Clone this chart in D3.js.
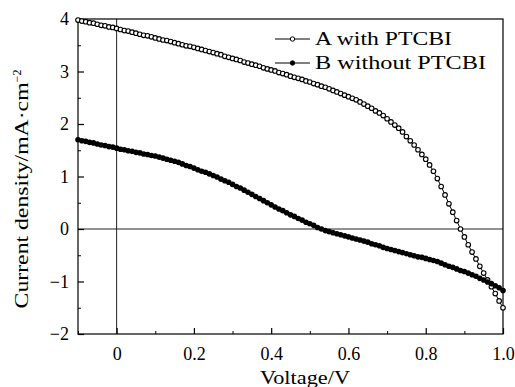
<!DOCTYPE html>
<html>
<head>
<meta charset="utf-8">
<script src="https://d3js.org/d3.v7.min.js"></script>
<style>
body { margin: 0; background: white; }
svg text { font-family: "Liberation Serif", "DejaVu Serif", serif; fill: black; }
</style>
</head>
<body>
<svg id="chart" width="515" height="387"></svg>
<script>
// voltage steps (V), one per measured point
var voltage = d3.range(-10, 101).map(function(i) { return i / 100; });

// A with PTCBI (mA/cm^2)
var withPTCBI = [
  3.98, 3.96, 3.95, 3.93, 3.92, 3.90, 3.88, 3.87, 3.85, 3.84,
  3.82, 3.80, 3.78, 3.77, 3.75, 3.73, 3.71, 3.69, 3.68, 3.66,
  3.64, 3.62, 3.60, 3.59, 3.57, 3.55, 3.53, 3.51, 3.49, 3.48,
  3.46, 3.44, 3.42, 3.40, 3.38, 3.36, 3.34, 3.32, 3.29, 3.27,
  3.25, 3.23, 3.21, 3.18, 3.16, 3.14, 3.12, 3.10, 3.07, 3.05,
  3.03, 3.01, 2.98, 2.96, 2.94, 2.91, 2.89, 2.87, 2.85, 2.82,
  2.80, 2.77, 2.75, 2.72, 2.70, 2.67, 2.64, 2.61, 2.58, 2.55,
  2.52, 2.49, 2.46, 2.42, 2.38, 2.34, 2.30, 2.25, 2.21, 2.16,
  2.10, 2.04, 1.98, 1.92, 1.85, 1.76, 1.68, 1.60, 1.51, 1.42,
  1.33, 1.22, 1.10, 0.96, 0.81, 0.65, 0.48, 0.32, 0.16, 0.00,
  -0.15, -0.30, -0.44, -0.57, -0.71, -0.84, -0.97, -1.10, -1.23, -1.37,
  -1.50
];

// B without PTCBI (mA/cm^2)
var withoutPTCBI = [
  1.70, 1.68, 1.67, 1.65, 1.64, 1.62, 1.60, 1.59, 1.57, 1.56,
  1.54, 1.52, 1.51, 1.49, 1.48, 1.46, 1.45, 1.43, 1.42, 1.40,
  1.39, 1.37, 1.35, 1.33, 1.31, 1.29, 1.27, 1.24, 1.21, 1.19,
  1.16, 1.13, 1.10, 1.08, 1.05, 1.02, 0.99, 0.95, 0.92, 0.89,
  0.85, 0.81, 0.78, 0.74, 0.70, 0.66, 0.62, 0.58, 0.54, 0.50,
  0.46, 0.42, 0.38, 0.35, 0.31, 0.27, 0.24, 0.20, 0.17, 0.13,
  0.10, 0.07, 0.03, 0.00, -0.03, -0.05, -0.07, -0.09, -0.11, -0.13,
  -0.15, -0.17, -0.19, -0.21, -0.23, -0.25, -0.28, -0.30, -0.32, -0.35,
  -0.37, -0.39, -0.41, -0.43, -0.45, -0.47, -0.49, -0.51, -0.53, -0.54,
  -0.56, -0.58, -0.60, -0.62, -0.65, -0.68, -0.71, -0.73, -0.76, -0.79,
  -0.81, -0.84, -0.87, -0.90, -0.94, -0.97, -1.01, -1.04, -1.08, -1.12,
  -1.17
];

var seriesNames = ["A with PTCBI", "B without PTCBI"];
var xTicks = [0, 0.2, 0.4, 0.6, 0.8, 1.0];
var xTickLabels = ["0", "0.2", "0.4", "0.6", "0.8", "1.0"];
var xMinor = [-0.1, 0.1, 0.3, 0.5, 0.7, 0.9];
var yTicks = [-2, -1, 0, 1, 2, 3, 4];
var yTickLabels = ["\u22122", "\u22121", "0", "1", "2", "3", "4"];
var yMinor = [-1.5, -0.5, 0.5, 1.5, 2.5, 3.5];

function draw() {
  var svg = d3.select("#chart");
  var mLeft = 78, mRight = 503, mTop = 19, mBottom = 334;

  var x = d3.scaleLinear().domain([-0.1, 1.0]).range([mLeft, mRight]);
  var y = d3.scaleLinear().domain([-2, 4]).range([mBottom, mTop]);

  // zero lines
  svg.append("line")
    .attr("x1", x(0)).attr("x2", x(0)).attr("y1", mTop).attr("y2", mBottom)
    .attr("stroke", "#222").attr("stroke-width", 1);
  svg.append("line")
    .attr("x1", mLeft).attr("x2", mRight).attr("y1", y(0)).attr("y2", y(0))
    .attr("stroke", "#222").attr("stroke-width", 1);

  // ticks (inward) on left and bottom
  var bottomAxis = d3.axisBottom(x).tickValues(xTicks).tickSize(-6).tickPadding(10)
    .tickFormat(function(d, i) { return xTickLabels[i]; });
  var gx = svg.append("g").attr("transform", "translate(0," + mBottom + ")").call(bottomAxis);
  gx.select(".domain").remove();
  gx.selectAll("text").attr("font-size", 18).attr("dy", "0.9em")
    .style("font-family", "Liberation Serif");
  gx.selectAll("line").attr("stroke-width", 1.2);

  var gxm = svg.append("g").attr("transform", "translate(0," + mBottom + ")")
    .call(d3.axisBottom(x).tickValues(xMinor).tickSize(-3).tickFormat(""));
  gxm.select(".domain").remove();

  var leftAxis = d3.axisLeft(y).tickValues(yTicks).tickSize(-6).tickPadding(9)
    .tickFormat(function(d, i) { return yTickLabels[i]; });
  var gy = svg.append("g").attr("transform", "translate(" + mLeft + ",0)").call(leftAxis);
  gy.select(".domain").remove();
  gy.selectAll("text").attr("font-size", 18).style("font-family", "Liberation Serif");
  gy.selectAll("line").attr("stroke-width", 1.2);

  var gym = svg.append("g").attr("transform", "translate(" + mLeft + ",0)")
    .call(d3.axisLeft(y).tickValues(yMinor).tickSize(-3).tickFormat(""));
  gym.select(".domain").remove();

  // frame
  svg.append("rect")
    .attr("x", mLeft).attr("y", mTop).attr("width", mRight - mLeft).attr("height", mBottom - mTop)
    .attr("fill", "none").attr("stroke", "black").attr("stroke-width", 1.2);

  var line = d3.line()
    .x(function(d, i) { return x(voltage[i]); })
    .y(function(d) { return y(d); });

  // series A: line + open circles
  svg.append("path").datum(withPTCBI).attr("d", line)
    .attr("fill", "none").attr("stroke", "black").attr("stroke-width", 1);
  svg.append("g").selectAll("circle").data(withPTCBI).enter().append("circle")
    .attr("cx", function(d, i) { return x(voltage[i]); })
    .attr("cy", function(d) { return y(d); })
    .attr("r", 2.3).attr("fill", "white").attr("stroke", "black").attr("stroke-width", 1.1);

  // series B: line + filled circles
  svg.append("path").datum(withoutPTCBI).attr("d", line)
    .attr("fill", "none").attr("stroke", "black").attr("stroke-width", 1.5);
  svg.append("g").selectAll("circle").data(withoutPTCBI).enter().append("circle")
    .attr("cx", function(d, i) { return x(voltage[i]); })
    .attr("cy", function(d) { return y(d); })
    .attr("r", 2.8).attr("fill", "black");

  // legend
  var legend = svg.append("g");
  var legendWidths = [137, 171];
  [39, 63].forEach(function(ly, i) {
    legend.append("line").attr("x1", 275).attr("x2", 310).attr("y1", ly).attr("y2", ly)
      .attr("stroke", "black").attr("stroke-width", 1);
    legend.append("circle").attr("cx", 292.5).attr("cy", ly).attr("r", 2.2)
      .attr("fill", i === 0 ? "white" : "black").attr("stroke", "black").attr("stroke-width", 1);
    legend.append("text").attr("x", 315).attr("y", ly + 6).attr("font-size", 19)
      .attr("textLength", legendWidths[i]).attr("lengthAdjust", "spacingAndGlyphs")
      .text(seriesNames[i]);
  });

  // axis titles
  svg.append("text").attr("x", 305).attr("y", 384).attr("text-anchor", "middle")
    .attr("font-size", 18).attr("textLength", 90).attr("lengthAdjust", "spacingAndGlyphs")
    .text("Voltage/V");

  var yt = svg.append("text").attr("transform", "translate(28,189) rotate(-90)")
    .attr("text-anchor", "middle").attr("font-size", 18);
  yt.append("tspan").attr("textLength", 226).attr("lengthAdjust", "spacingAndGlyphs")
    .text("Current density/mA\u00b7cm");
  yt.append("tspan").attr("dy", -7).attr("font-size", 12).text("\u22122");
}

draw();
</script>
</body>
</html>
